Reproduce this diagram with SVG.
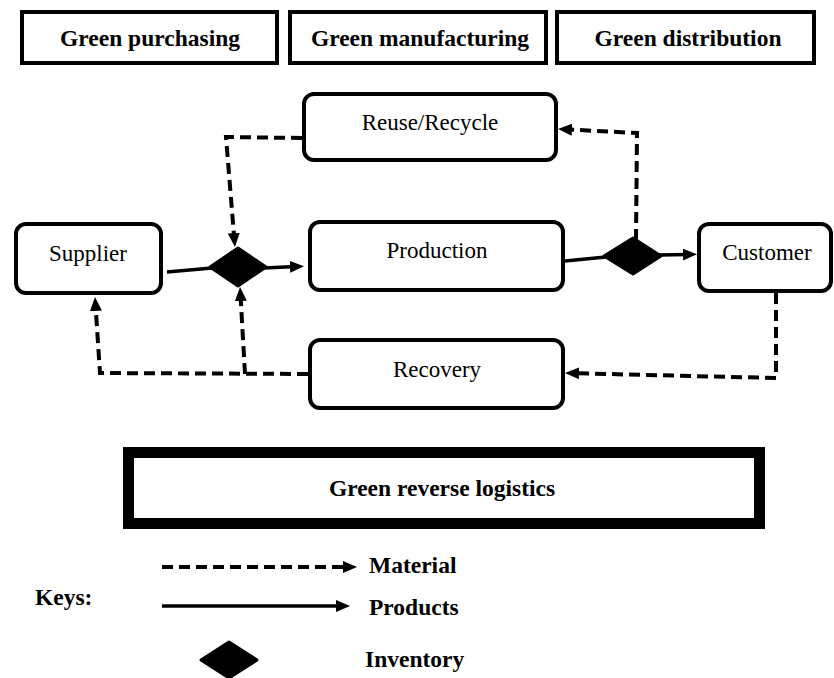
<svg xmlns="http://www.w3.org/2000/svg" width="834" height="678" viewBox="0 0 834 678">
  <style>
    .hdr { fill: #fff; stroke: #000; stroke-width: 4; }
    .node { fill: #fff; stroke: #000; stroke-width: 4; }
    .bold { font-family: "Liberation Serif", "Times New Roman", serif; font-weight: bold; font-size: 23.5px; fill: #000; }
    .lbl { font-family: "Liberation Serif", "Times New Roman", serif; font-size: 23px; fill: #000; }
    .solid { fill: none; stroke: #000; stroke-width: 3.5; }
    .dash { fill: none; stroke: #000; stroke-width: 4; stroke-dasharray: 11 6; }
    .inv { fill: #000; stroke: #000; stroke-width: 3; stroke-linejoin: round; }
  </style>
  <defs>
    <marker id="arrow" markerUnits="userSpaceOnUse" markerWidth="15" markerHeight="13" refX="6" refY="6.5" orient="auto">
      <path d="M0,0.5 L14,6.5 L0,12.5 z" fill="#000"/>
    </marker>
  </defs>

  <!-- stage headers -->
  <g id="green-purchasing">
    <rect class="hdr" x="22" y="12" width="255" height="51"/>
    <text class="bold" x="150" y="46" text-anchor="middle">Green purchasing</text>
  </g>
  <g id="green-manufacturing">
    <rect class="hdr" x="290" y="12" width="256" height="51"/>
    <text class="bold" x="420" y="46" text-anchor="middle">Green manufacturing</text>
  </g>
  <g id="green-distribution">
    <rect class="hdr" x="557" y="12" width="257" height="51"/>
    <text class="bold" x="688" y="46" text-anchor="middle">Green distribution</text>
  </g>

  <!-- process nodes -->
  <g id="supplier">
    <rect class="node" x="16" y="224" width="145" height="69" rx="10"/>
    <text class="lbl" x="88" y="261" text-anchor="middle">Supplier</text>
  </g>
  <g id="reuse-recycle">
    <rect class="node" x="304" y="94" width="252" height="66" rx="10"/>
    <text class="lbl" x="430" y="130" text-anchor="middle">Reuse/Recycle</text>
  </g>
  <g id="production">
    <rect class="node" x="310" y="222" width="253" height="68" rx="10"/>
    <text class="lbl" x="437" y="258" text-anchor="middle">Production</text>
  </g>
  <g id="recovery">
    <rect class="node" x="310" y="340" width="253" height="68" rx="10"/>
    <text class="lbl" x="437" y="377" text-anchor="middle">Recovery</text>
  </g>
  <g id="customer">
    <rect class="node" x="699" y="224" width="132" height="67" rx="10"/>
    <text class="lbl" x="767" y="260" text-anchor="middle">Customer</text>
  </g>

  <!-- inventory points -->
  <g id="inventory-in">
    <polygon class="inv" points="210,267 238,248 266,267 238,286"/>
  </g>
  <g id="inventory-out">
    <polygon class="inv" points="604,256 633,238 661,256 633,274"/>
  </g>

  <!-- flows -->
  <g id="connectors">
    <path class="solid" d="M167,272 L212,268"/>
    <path class="solid" d="M264,268 L296,266.5" marker-end="url(#arrow)"/>
    <path class="solid" d="M565,261 L606,257"/>
    <path class="solid" d="M659,255 L689,254.5" marker-end="url(#arrow)"/>
    <path class="dash" d="M302,138 L226,137 L234.3,239" marker-end="url(#arrow)"/>
    <path class="dash" d="M636,240 L637,133 L566,129.4" marker-end="url(#arrow)"/>
    <path class="dash" d="M776,293 L776,378 L573,373.2" marker-end="url(#arrow)"/>
    <path class="dash" d="M308,374 L100,373 L95.5,305" marker-end="url(#arrow)"/>
    <path class="dash" d="M245,374 L240.5,295" marker-end="url(#arrow)"/>
  </g>

  <!-- reverse logistics band -->
  <g id="green-reverse-logistics">
    <rect x="128.5" y="452.5" width="631" height="71" fill="#fff" stroke="#000" stroke-width="11"/>
    <text class="bold" x="442" y="496" text-anchor="middle">Green reverse logistics</text>
  </g>

  <!-- legend -->
  <g id="keys">
    <text class="bold" x="35" y="605">Keys:</text>
    <path class="dash" d="M162,567 L349,567" marker-end="url(#arrow)"/>
    <text class="bold" x="369" y="573">Material</text>
    <path class="solid" d="M162,606 L342,606" stroke-width="4" marker-end="url(#arrow)"/>
    <text class="bold" x="369" y="615">Products</text>
    <polygon class="inv" points="201,660 229,642 257,660 229,678"/>
    <text class="bold" x="365" y="667">Inventory</text>
  </g>
</svg>
